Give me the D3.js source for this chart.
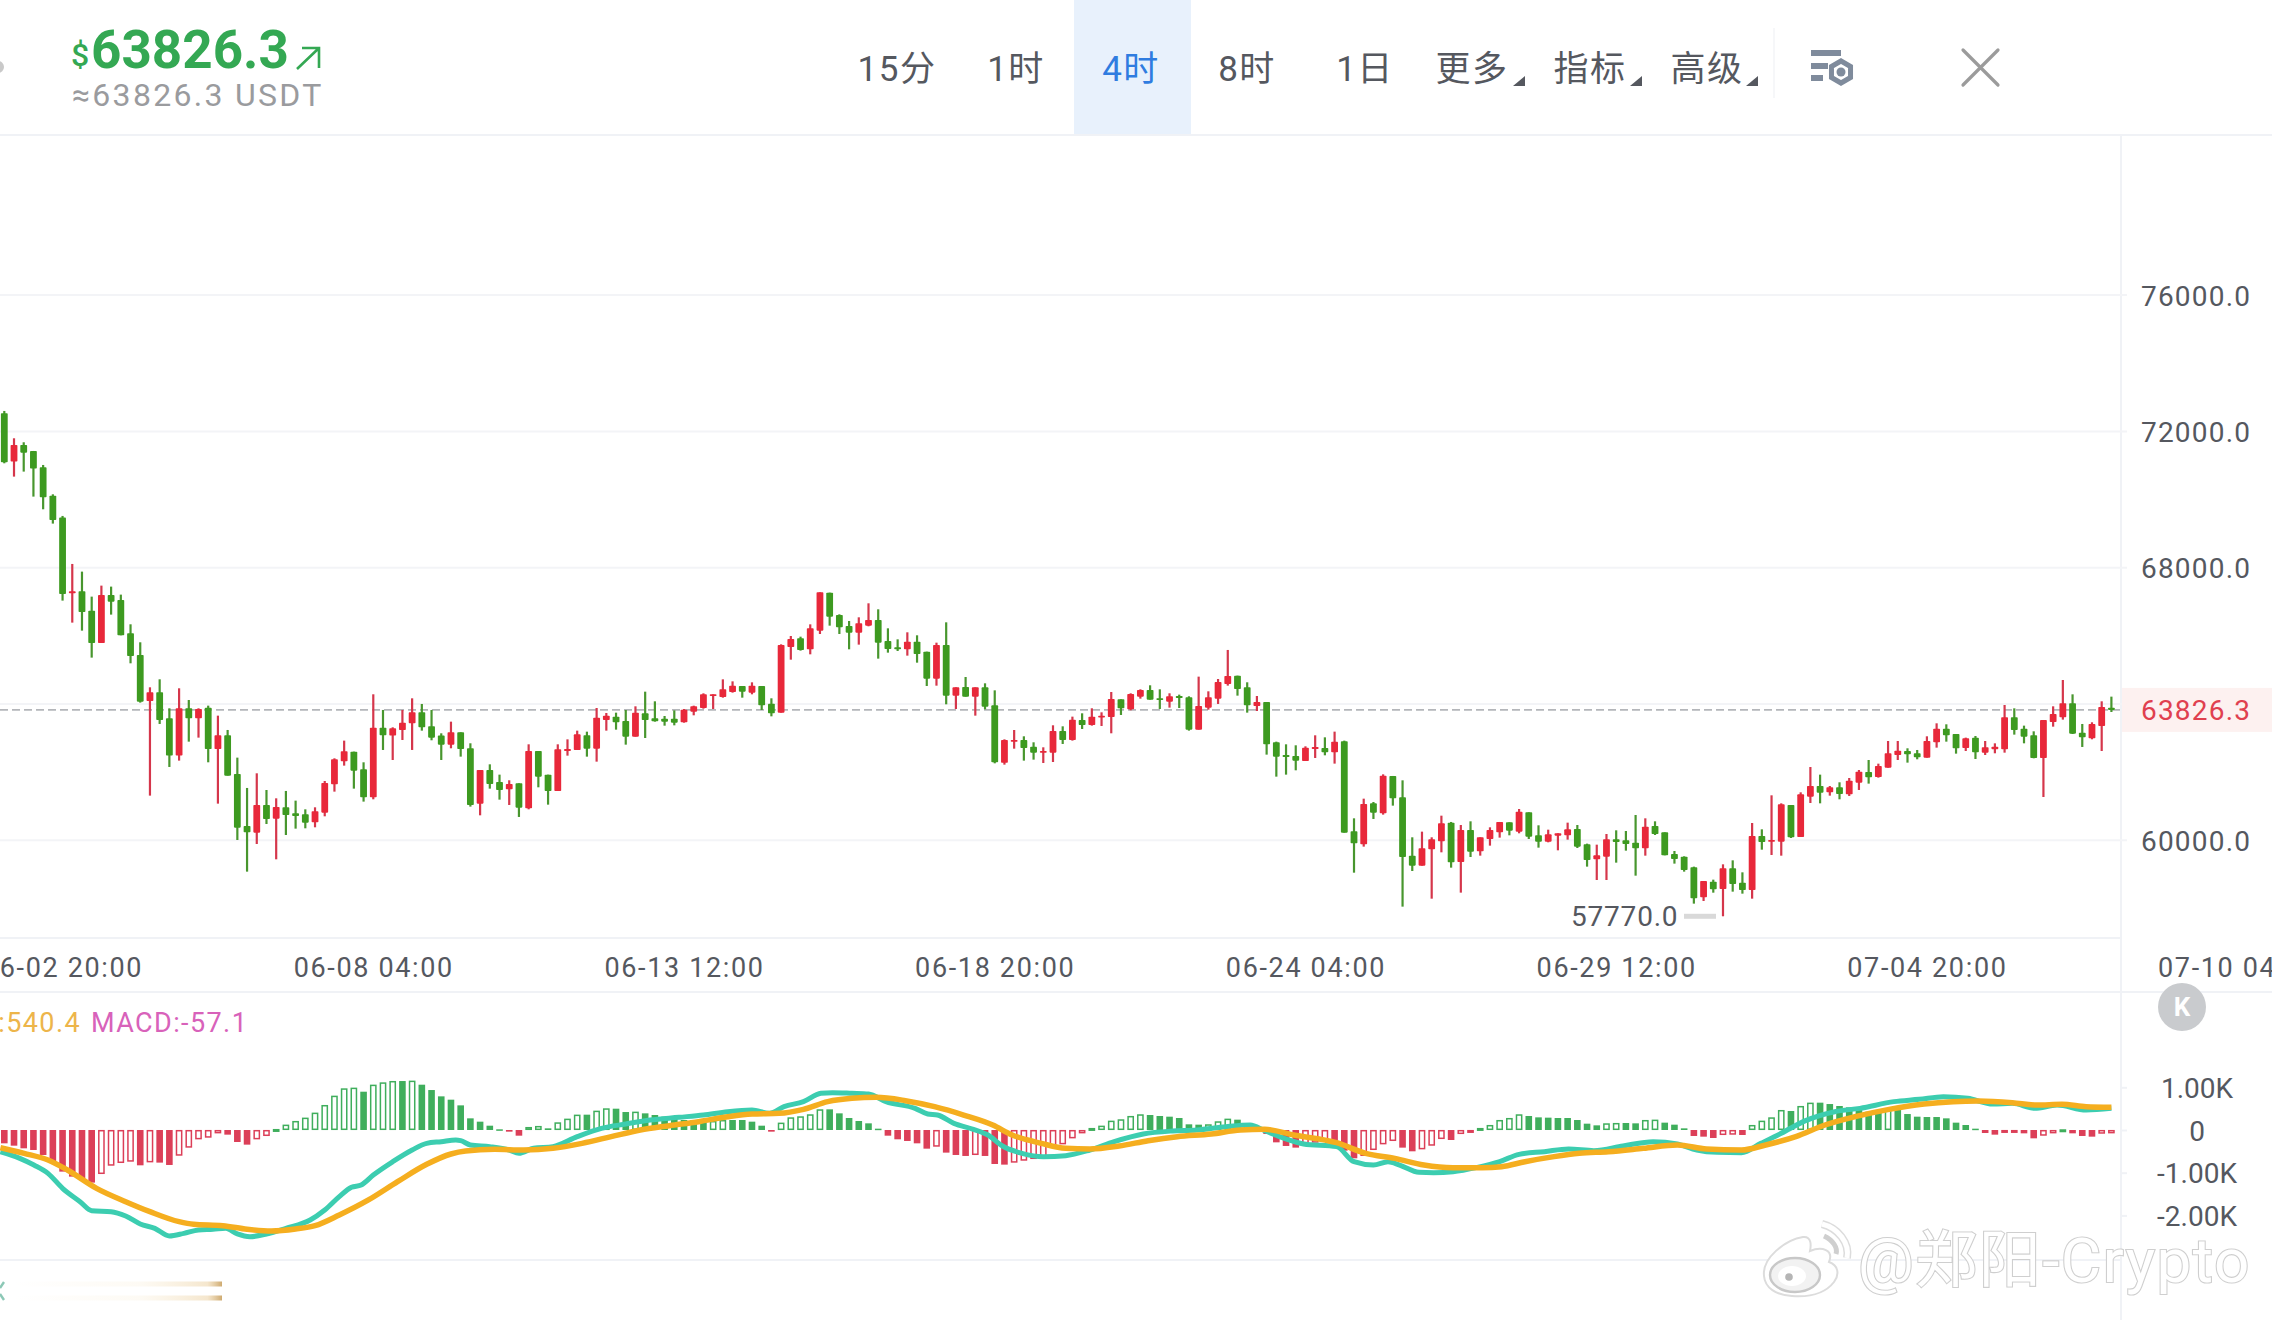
<!DOCTYPE html>
<html lang="zh">
<head>
<meta charset="utf-8">
<title>BTC 4时 K线</title>
<script src="https://cdn.jsdelivr.net/npm/d3@7/dist/d3.min.js"></script>
<style>
  html, body { margin: 0; padding: 0; background: #fff; overflow: hidden; }
  svg { display: block; }
  text { font-family: Roboto, "Noto Sans CJK SC", sans-serif; }
</style>
</head>
<body>
<svg id="chart" width="2272" height="1320"></svg>
<script>
// 4-hour candles, oldest first
const candleOpen = [
  72532,71113,71602,71426,70947,70115,69470,67249,67308,66740,
  65791,67200,67053,66075,65439,64089,64343,63580,62485,63874,
  63580,63893,62680,63081,61946,60420,60225,61037,60636,60968,
  60792,60763,60528,60812,61643,62318,62602,62083,61262,63306,
  63072,63238,63433,63756,63345,63072,62807,63169,62700,61076,
  62064,61712,61497,61673,60938,62621,61926,61447,62621,62650,
  63081,62689,63531,63628,63501,63042,63726,63580,63570,63570,
  63462,63775,63883,64235,64206,64352,64529,64333,64529,64010,
  63746,65673,65928,65605,66153,67268,66612,66289,66094,66299,
  66466,65849,65663,65605,65830,65536,64744,65732,64245,64499,
  64215,64489,63961,62278,62895,62944,62748,62572,62572,63208,
  62944,63531,63384,63609,63619,64138,63844,64216,64412,64167,
  64069,64235,64196,63247,63893,64157,64588,64832,64490,63942,
  64059,62876,62504,62475,62328,62680,62709,62582,62905,60264,
  59882,61085,60792,61888,61261,59549,59256,59735,59970,60518,
  59364,60303,59677,60039,60234,60528,60254,60821,60146,59960,
  60136,60146,60332,59882,59442,59520,60029,59999,59931,59765,
  60420,60234,59598,59520,59207,58327,58786,58571,59178,58757,
  58542,60127,59960,59960,61036,60097,61281,61594,61408,61555,
  61349,61692,62005,61858,62132,62504,62621,62553,62426,62876,
  63277,63120,62709,63013,62572,62670,62670,63609,63277,63081,
  62416,63472,63609,64020,63159,62993,63355,63893
];
const candleClose = [
  71094,71602,71377,70908,70066,69401,67229,67308,66701,65791,
  67200,67004,66016,65410,64069,64343,63531,62485,63874,63580,
  63854,62680,63081,61898,60371,60234,61037,60626,60978,60743,
  60714,60518,60851,61682,62377,62612,62044,61262,63306,63081,
  63287,63453,63756,63316,63013,62807,63169,62680,61037,62064,
  61653,61477,61653,60958,62621,61868,61447,62670,62680,63110,
  62689,63599,63658,63462,63042,63746,63531,63492,63482,63452,
  63834,63932,64284,64284,64431,64538,64362,64538,63961,63726,
  65732,65908,65585,66221,67278,66563,66250,66094,66368,66466,
  65800,65614,65605,65830,65468,64744,65732,64245,64489,64215,
  64489,63922,62288,62944,62944,62709,62572,62621,63208,62944,
  63541,63384,63629,63658,64147,63874,64294,64412,64128,64118,
  64226,64177,63247,63942,64196,64646,64822,64441,63962,64059,
  62817,62455,62445,62338,62719,62739,62582,62895,60224,59911,
  61066,60811,61897,61232,59510,59256,59765,60029,60498,59354,
  60303,59667,60088,60303,60538,60283,60841,60107,59960,60175,
  60205,60322,59814,59422,59559,60029,59951,59892,59765,60400,
  60185,59559,59452,59129,58297,58806,58561,59178,58718,58542,
  60127,59951,60009,61056,60087,61349,61594,61398,61555,61359,
  61751,62015,61848,62181,62553,62631,62523,62435,62915,63277,
  63081,62700,62993,62582,62729,62748,63609,63238,63042,62416,
  63531,63707,64020,63130,63022,63414,63913,63826.3
];
const candleHigh = [
  72600,71798,71681,71426,71015,70154,69519,68110,67885,67151,
  67474,67445,67210,66339,65811,64490,64725,63874,64461,64118,
  63874,63952,63658,63238,62426,61536,61966,61477,61232,61448,
  61164,60909,60968,61741,62406,62925,62602,62289,64285,63825,
  63316,63825,64167,64001,63825,63140,63482,63169,62847,62064,
  62230,61927,61761,61673,62817,62621,61926,62817,62963,63218,
  63188,63883,63736,63746,63824,63932,64362,64079,63648,63814,
  63853,63951,64313,64284,64724,64665,64529,64636,64529,64167,
  65751,65996,65976,66338,67278,67268,66632,66436,66544,66955,
  66779,66221,65898,66104,66016,65536,65800,66397,64489,64793,
  64489,64607,64401,62963,63237,63052,62876,62729,63375,63345,
  63629,63727,63874,63756,64353,64138,64314,64431,64549,64431,
  64314,64275,64226,64803,64372,64734,65586,64832,64637,64235,
  64059,62895,62817,62788,62758,63081,63022,63189,62925,60645,
  61222,61124,61936,61888,61760,60088,60254,60088,60723,60538,
  60449,60557,60088,60381,60538,60528,60919,60821,60440,60312,
  60205,60518,60449,59902,59872,60185,60293,60273,60743,60645,
  60557,60234,59686,59530,59227,58806,58845,59295,59412,59060,
  60508,60322,61320,61085,61036,61408,62152,61927,61594,61702,
  61829,62064,62357,62249,62915,62915,62700,62651,63052,63433,
  63404,63120,63013,63061,62915,62846,63971,63873,63365,63198,
  63531,63932,64705,64284,63414,63463,64079,64216
];
const candleLow = [
  71064,70673,70820,70086,69714,69294,67034,66388,66153,65361,
  65791,66623,66016,65194,64040,61311,63414,62152,62338,62895,
  63013,62289,61076,61898,60009,59080,59892,60479,59442,60156,
  60342,60352,60381,60704,61428,62191,61516,61135,61203,62651,
  62357,62944,62651,63218,62935,62357,62700,62455,60988,60733,
  61516,61193,61037,60685,60909,61555,61046,61447,62484,62650,
  62455,62308,63218,63247,62807,63042,63002,63482,63364,63374,
  63452,63668,63863,63853,64186,64333,64186,64284,63824,63638,
  63746,65301,65566,65458,66055,66299,66055,65605,65742,66280,
  65331,65507,65556,65419,65213,64529,64538,63991,63853,64215,
  63658,63844,62259,62220,62689,62338,62367,62269,62298,62827,
  62925,63267,63365,63355,63140,63678,63815,64157,64128,63854,
  63893,63883,63218,63247,63834,64001,64539,64245,63746,63795,
  62514,61868,61927,62054,62328,62416,62494,62250,60224,59050,
  59814,60626,60753,61017,58053,59099,59256,58287,59647,59197,
  58464,59510,59549,59843,60078,60146,60205,60039,59784,59941,
  59706,60019,59774,59227,58835,58835,59344,59696,58962,59549,
  60156,59559,59315,59080,58141,58219,58463,57770,58493,58434,
  58287,59725,59569,59549,60068,60097,61095,61085,61310,61203,
  61301,61477,61663,61839,62132,62357,62279,62377,62426,62719,
  62895,62543,62621,62386,62504,62553,62572,63101,62846,62406,
  61271,63335,63541,63120,62739,62964,62621,63766
];

// MACD histogram, one bar per candle
const macdHist = [
  -312,-367,-429,-468,-585,-741,-975,-1092,-1131,-1232,
  -1030,-835,-772,-741,-827,-757,-764,-819,-601,-413,
  -218,-179,-78,-109,-281,-343,-218,-140,23,125,
  211,289,406,585,803,975,991,897,1061,1115,
  1147,1147,1155,1061,936,788,710,577,273,195,
  101,16,-39,-133,70,94,39,179,265,359,
  359,452,507,499,421,429,390,351,312,273,
  234,234,195,211,234,234,234,195,101,-39,
  172,296,320,367,484,484,390,281,211,156,
  31,-133,-218,-257,-312,-437,-390,-530,-585,-608,
  -585,-608,-796,-811,-764,-718,-679,-647,-374,-335,
  -195,-78,47,101,218,250,328,367,351,328,
  312,281,133,125,133,203,265,242,156,39,
  -94,-289,-374,-413,-312,-296,-273,-296,-484,-663,
  -608,-468,-335,-257,-413,-499,-452,-367,-211,-234,
  -94,-62,47,117,234,281,367,328,296,289,
  281,281,234,148,109,156,164,164,156,234,
  242,172,125,39,-140,-156,-187,-117,-109,-117,
  117,218,296,468,445,562,640,640,608,562,
  530,468,429,429,468,468,374,312,304,304,
  273,172,117,31,-70,-109,-39,-31,-78,-195,
  -133,-78,16,-78,-140,-156,-86,-78
];

// DIF and DEA as read along the candle index
const difIndex = [
  -0.4,1.6,3.05,4.5,6,7.8,9,11,12.5,14,15.5,17,18.5,20,21.5,22.8,24,25.3,27,29,
  31.5,33,34.5,35.75,36.75,38,40,42,43.5,45,46.5,47,48,50,52,53,54.5,56.5,59,61.5,
  64,66.5,69.5,72,74.5,77,78.8,80.3,82.3,84.1,85.3,87.3,89,90.8,93.8,95.1,96.1,97.8,99.8,101.3,
  102.8,104.8,107,109.3,111.8,114.3,117.3,120.3,122.8,125.8,128.3,129.8,131.8,133.8,137.2,139,141,142.5,143.7,145.7,
  147.2,149.2,151.7,154,156,158.6,161.1,163.7,166.7,169.8,172.3,174.3,176.4,178.9,180.9,183,185.5,188.5,191.1,194.6,
  197.2,199.7,202.2,204.8,206.8,209.1,211.4,214.4,217
];
const difValue = [
  -507,-664,-820,-1015,-1366,-1678,-1889,-1912,-2014,-2201,-2303,-2482,-2420,-2342,-2326,-2303,-2435,-2498,-2435,-2303,
  -2108,-1873,-1561,-1343,-1288,-1054,-742,-468,-312,-273,-234,-250,-351,-390,-468,-546,-429,-390,-156,39,
  141,234,297,351,429,468,390,546,664,859,874,859,843,664,507,375,351,156,16,-117,
  -375,-546,-624,-601,-468,-273,-94,-23,0,78,117,-16,-195,-328,-390,-742,-820,-742,-820,-991,
  -999,-976,-874,-740,-570,-507,-445,-484,-375,-273,-328,-468,-523,-531,-312,-78,219,429,507,664,
  718,781,742,609,624,507,585,468,507
];
const deaIndex = [
  -0.4,2.05,4.5,6.5,9.5,12.5,15,18,19.5,22.5,25,27.5,30,32,34.5,37.5,40.5,43.5,46,47.5,
  50.5,53.5,56.5,59.5,62.5,65.5,68.5,71.5,74.5,77,79.8,82.3,84.8,87.3,89.8,92.8,95.8,98.8,101.8,103.8,
  106.8,109.3,111.8,114.8,117.8,120.8,124.3,127.3,129.8,132.8,137.2,140.2,143.2,146.2,149.2,152.2,154.2,156.6,159.6,162.2,
  165.2,168.8,172.3,175.3,178.9,181.4,184.5,187.5,190.6,194.1,197.7,200.7,203.3,206.8,209.3,211.9,214.4,217
];
const deaValue = [
  -414,-546,-703,-937,-1366,-1678,-1912,-2147,-2209,-2240,-2326,-2365,-2318,-2240,-1991,-1639,-1210,-804,-562,-492,
  -453,-468,-429,-312,-156,0,101,195,312,375,390,484,664,742,765,687,546,351,117,-117,
  -312,-429,-445,-375,-250,-156,-94,0,16,-117,-297,-546,-664,-820,-882,-882,-859,-742,-624,-546,
  -507,-429,-351,-445,-468,-351,-156,117,312,484,609,664,679,640,585,601,546,531
];

// Axis content
const priceTicks = [60000, 64000, 68000, 72000, 76000];
const macdTicks = [1000, 0, -1000, -2000];
const timeTickIndex = [6, 38, 70, 102, 134, 166, 198, 230];
const timeTickLabel = ["06-02 20:00", "06-08 04:00", "06-13 12:00", "06-18 20:00", "06-24 04:00", "06-29 12:00", "07-04 20:00", "07-10 04:00"];
const lastPrice = 63826.3;
const lowestPrice = 57770.0;
const lowestIndex = 177;
const tabLabels = ["15分", "1时", "4时", "8时", "1日", "更多", "指标", "高级"];
const tabCenters = [897, 1016, 1131, 1247, 1365, 1472, 1590, 1707];

const UP = "#e8283a", DOWN = "#3d9a20";
const HIST_UP = "#3fae5c", HIST_DOWN = "#dc3f58";
const TEXT = "#55585f", RULE = "#f0f2f6";

const svg = d3.select("#chart");

// Scales share the candle index horizontally
const x = d3.scaleLinear().domain([0, 217]).range([4.3, 2111.4]);
const y = d3.scaleLinear().domain([60000, 76000]).range([840.3, 295.1]);
const ym = d3.scaleLinear().domain([0, 1000]).range([1130, 1087.3]);

const rule = (x1, y1, x2, y2, c = RULE, w = 2) =>
  svg.append("line").attr("x1", x1).attr("y1", y1).attr("x2", x2).attr("y2", y2)
     .attr("stroke", c).attr("stroke-width", w);

// Panel frame
rule(0, 135, 2272, 135);
rule(2121, 135, 2121, 1320);
rule(0, 938, 2121, 938);
rule(0, 992, 2272, 992);
rule(0, 1260, 2121, 1260);

// Price gridlines and labels
svg.append("g").selectAll("line").data(priceTicks).join("line")
  .attr("x1", 0).attr("x2", 2127)
  .attr("y1", d => y(d)).attr("y2", d => y(d))
  .attr("stroke", "#f3f4f7").attr("stroke-width", 2);

const priceAxis = d3.axisRight(y).tickValues(priceTicks.filter(d => d !== 64000))
  .tickFormat(d3.format(".1f")).tickSize(0).tickPadding(20);
const priceG = svg.append("g").attr("transform", "translate(2121,1)").call(priceAxis);
priceG.select(".domain").remove();
priceG.selectAll("text").attr("font-size", 28).attr("fill", TEXT).style("letter-spacing", "1.2px");

// Time axis
const timeAxis = d3.axisBottom(x).tickValues(timeTickIndex)
  .tickFormat((d, i) => timeTickLabel[i]).tickSize(0).tickPadding(0);
const timeG = svg.append("g").attr("transform", "translate(0,957.5)").call(timeAxis);
timeG.select(".domain").remove();
timeG.selectAll("text").attr("font-size", 27).attr("fill", TEXT).attr("dy", "0.72em").attr("y", 0)
  .style("letter-spacing", "1.65px");

// Last-price line and tag
svg.append("line").attr("x1", 0).attr("x2", 2121)
  .attr("y1", y(lastPrice)).attr("y2", y(lastPrice))
  .attr("stroke", "#b4b6ba").attr("stroke-width", 1.6).attr("stroke-dasharray", "8 4");
svg.append("rect").attr("x", 2122).attr("y", y(lastPrice) - 22).attr("width", 150).attr("height", 44)
  .attr("fill", "#fdf1f0");
svg.append("text").attr("x", 2141).attr("y", y(lastPrice)).attr("dy", "0.36em")
  .attr("font-size", 28).attr("fill", "#e0404f").style("letter-spacing", "1.2px")
  .text(lastPrice.toFixed(1));

// Candles
const candleIdx = d3.range(candleOpen.length);
const candles = svg.append("g");
candles.selectAll("line").data(candleIdx).join("line")
  .attr("x1", i => x(i)).attr("x2", i => x(i))
  .attr("y1", i => y(candleHigh[i])).attr("y2", i => y(candleLow[i]))
  .attr("stroke", i => candleClose[i] >= candleOpen[i] ? "#d5364b" : "#48962e")
  .attr("stroke-width", 2.2);
candles.selectAll("rect").data(candleIdx).join("rect")
  .attr("x", i => x(i) - 3.4).attr("width", 6.8)
  .attr("y", i => y(Math.max(candleOpen[i], candleClose[i])))
  .attr("height", i => Math.max(1.8, Math.abs(y(candleOpen[i]) - y(candleClose[i]))))
  .attr("rx", 0.8)
  .attr("fill", i => candleClose[i] >= candleOpen[i] ? UP : DOWN);

// Lowest-price marker, sitting left of its candle
svg.append("text").attr("x", x(lowestIndex) - 152).attr("y", y(lowestPrice)).attr("dy", "0.36em")
  .attr("font-size", 28).attr("fill", TEXT).attr("text-anchor", "start")
  .style("letter-spacing", "0.8px").text(lowestPrice.toFixed(1));
svg.append("rect").attr("x", x(lowestIndex) - 39).attr("y", y(lowestPrice) - 2.5)
  .attr("width", 32).attr("height", 5).attr("fill", "#d9d9d9");

// MACD histogram: rising bars are outlined, falling bars are solid
const histG = svg.append("g");
const isRising = i => i > 0 && macdHist[i] > macdHist[i - 1];
histG.selectAll("rect").data(candleIdx).join("rect")
  .attr("x", i => x(i) - (isRising(i) ? 2.6 : 3.3))
  .attr("width", i => isRising(i) ? 5.2 : 6.6)
  .attr("y", i => Math.min(ym(0), ym(macdHist[i])) + (isRising(i) ? 0.7 : 0))
  .attr("height", i => Math.max(1.5, Math.abs(ym(macdHist[i]) - ym(0)) - (isRising(i) ? 1.4 : 0)))
  .attr("fill", i => isRising(i) ? "none" : (macdHist[i] >= 0 ? HIST_UP : HIST_DOWN))
  .attr("stroke", i => isRising(i) ? (macdHist[i] >= 0 ? HIST_UP : HIST_DOWN) : "none")
  .attr("stroke-width", 1.5);

// DIF and DEA lines
const macdLine = d3.line().x(d => x(d[0])).y(d => ym(d[1])).curve(d3.curveMonotoneX);
svg.append("path").attr("d", macdLine(difIndex.map((k, i) => [k, difValue[i]])))
  .attr("fill", "none").attr("stroke", "#3ccdb0").attr("stroke-width", 5)
  .attr("stroke-linejoin", "round");
svg.append("path").attr("d", macdLine(deaIndex.map((k, i) => [k, deaValue[i]])))
  .attr("fill", "none").attr("stroke", "#f5ae1f").attr("stroke-width", 5.5)
  .attr("stroke-linejoin", "round");

// MACD axis
const macdAxis = d3.axisRight(ym).tickValues(macdTicks)
  .tickFormat(d => d === 0 ? "0" : (d / 1000).toFixed(2) + "K").tickSize(6).tickPadding(0);
const macdG = svg.append("g").attr("transform", "translate(2121,0)").call(macdAxis);
macdG.select(".domain").remove();
macdG.selectAll("line").attr("stroke", RULE).attr("stroke-width", 2);
macdG.selectAll("text").attr("x", 76).attr("text-anchor", "middle").attr("dy", "0.36em")
  .attr("font-size", 28).attr("fill", TEXT);

// MACD legend, running off the left edge
svg.append("text").attr("x", 81).attr("y", 1032).attr("text-anchor", "end")
  .attr("font-size", 27).attr("fill", "#edb54a").style("letter-spacing", "1.4px").text("DEA:540.4");
svg.append("text").attr("x", 91).attr("y", 1032)
  .attr("font-size", 27).attr("fill", "#d862ba").style("letter-spacing", "1.4px").text("MACD:-57.1");

// Collapse button on the indicator panel
svg.append("circle").attr("cx", 2182).attr("cy", 1007).attr("r", 24).attr("fill", "#c9cbce");
svg.append("text").attr("x", 2182).attr("y", 1007).attr("dy", "0.36em").attr("text-anchor", "middle")
  .attr("font-size", 26).attr("font-weight", 700).attr("fill", "#fff").text("K");

// Smeared scale marks at the lower left
const defs = svg.append("defs");
const smear = defs.append("linearGradient").attr("id", "smear");
smear.append("stop").attr("offset", "0").attr("stop-color", "#f6e7c8").attr("stop-opacity", 0);
smear.append("stop").attr("offset", "0.6").attr("stop-color", "#f6e7c8").attr("stop-opacity", 0.2);
smear.append("stop").attr("offset", "0.93").attr("stop-color", "#eed6ac").attr("stop-opacity", 0.6);
smear.append("stop").attr("offset", "1").attr("stop-color", "#c9a160").attr("stop-opacity", 0.9);
[1284, 1298].forEach(yy => svg.append("rect").attr("x", 14).attr("y", yy - 2.5)
  .attr("width", 208).attr("height", 5).attr("fill", "url(#smear)"));
svg.append("path").attr("d", "M0 1288L4 1282M0 1294L4 1300")
  .attr("stroke", "#8cc8b6").attr("stroke-width", 2.4).attr("fill", "none");

// Header: price block
svg.append("text").attr("x", 71).attr("y", 66).attr("font-size", 32).attr("font-weight", 500)
  .attr("fill", "#34a853").text("$");
svg.append("text").attr("x", 91).attr("y", 68).attr("font-size", 53).attr("font-weight", 700)
  .attr("fill", "#34a853").text("63826.3");
svg.append("path").attr("d", "M297 69L319 48M302 48H319V68")
  .attr("fill", "none").attr("stroke", "#34a853").attr("stroke-width", 2.6);
svg.append("text").attr("x", 72).attr("y", 106).attr("font-size", 32).attr("fill", "#9a9b9e")
  .style("letter-spacing", "2.3px").text("≈63826.3 USDT");
svg.append("circle").attr("cx", -2).attr("cy", 67).attr("r", 6).attr("fill", "#c9c9c9");

// Header: interval tabs
svg.append("rect").attr("x", 1074).attr("y", 0).attr("width", 117).attr("height", 134).attr("fill", "#e8f1fc");
svg.append("g").selectAll("text").data(tabLabels).join("text")
  .attr("x", (d, i) => tabCenters[i]).attr("y", 68).attr("dy", "0.36em").attr("text-anchor", "middle")
  .attr("font-size", 35).attr("fill", (d, i) => i === 2 ? "#2f7ce0" : "#55585f")
  .style("letter-spacing", "1.5px").text(d => d);
[1519, 1636, 1752].forEach(cx => svg.append("path")
  .attr("d", `M${cx - 6} 86L${cx + 6} 86L${cx + 6} 76Z`).attr("fill", "#55585f"));
rule(1774, 28, 1774, 98, "#f3f4f7", 1.5);

// Header: settings icon and close button
svg.append("g").selectAll("rect").data([[1811, 50, 30, 6], [1811, 63, 17, 6], [1811, 75, 12, 6]]).join("rect")
  .attr("x", d => d[0]).attr("y", d => d[1]).attr("width", d => d[2]).attr("height", d => d[3]).attr("fill", "#7f8b9c");
const hex = d3.range(6).map(i => {
  const a = Math.PI / 3 * i + Math.PI / 6;
  return [1841 + 11 * Math.cos(a), 72 + 11 * Math.sin(a)];
});
svg.append("polygon").attr("points", hex.join(" ")).attr("fill", "#fff").attr("stroke", "#7f8b9c").attr("stroke-width", 5);
svg.append("circle").attr("cx", 1841).attr("cy", 72).attr("r", 4.5).attr("fill", "#7f8b9c");
svg.append("path").attr("d", "M1963 50L1998 85M1998 50L1963 85")
  .attr("stroke", "#9b9b9b").attr("stroke-width", 3.2).attr("stroke-linecap", "round");

// Weibo handle stamped over the corner
const mark = svg.append("g");
mark.append("path")
  .attr("d", "M1764 1276C1762 1258 1785 1240 1803 1237C1812 1236 1811 1246 1810 1251C1822 1246 1834 1250 1829 1262C1838 1265 1840 1274 1834 1282C1824 1295 1806 1297 1792 1296C1776 1295 1765 1288 1764 1276Z")
  .attr("fill", "#fff").attr("stroke", "#dcdcdc").attr("stroke-width", 2);
mark.append("ellipse").attr("cx", 1795).attr("cy", 1275).attr("rx", 25).attr("ry", 17)
  .attr("fill", "#f2f2f2").attr("stroke", "#c8c8c8").attr("stroke-width", 2.4);
mark.append("ellipse").attr("cx", 1792).attr("cy", 1276).attr("rx", 14).attr("ry", 10).attr("fill", "#fff");
mark.append("circle").attr("cx", 1789).attr("cy", 1277).attr("r", 3.8).attr("fill", "#b5b5b5");
mark.append("path").attr("d", "M1822 1224C1838 1228 1850 1243 1847 1258")
  .attr("fill", "none").attr("stroke", "#dcdcdc").attr("stroke-width", 8);
mark.append("path").attr("d", "M1822 1224C1838 1228 1850 1243 1847 1258")
  .attr("fill", "none").attr("stroke", "#fff").attr("stroke-width", 5);
mark.append("path").attr("d", "M1824 1236C1833 1240 1838 1248 1836 1254")
  .attr("fill", "none").attr("stroke", "#cfcfcf").attr("stroke-width", 5);
mark.append("text").attr("x", 1858).attr("y", 1282).attr("font-size", 62)
  .attr("fill", "#fff").attr("stroke", "#cfcfcf").attr("stroke-width", 2.2)
  .attr("paint-order", "stroke").style("letter-spacing", "1.5px").text("@郑阳-Crypto");
</script>
</body>
</html>
